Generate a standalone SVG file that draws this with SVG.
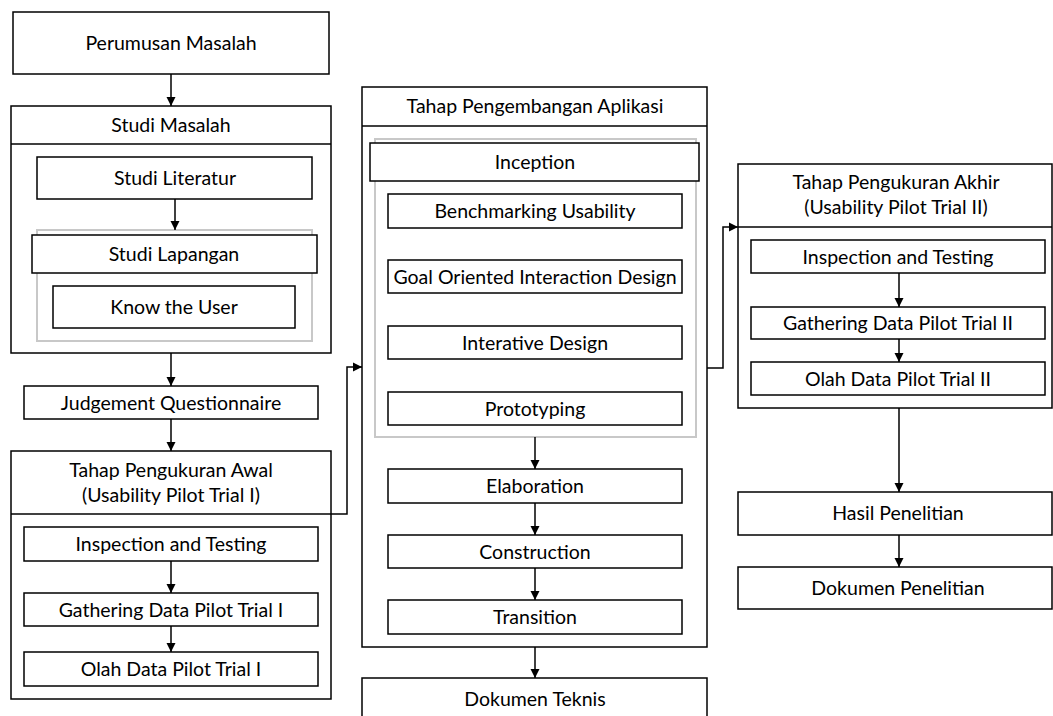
<svg xmlns="http://www.w3.org/2000/svg" width="1053" height="716" viewBox="0 0 1053 716">
<style>
.b{fill:#fff;stroke:#000;stroke-width:1.5}
.g{fill:none;stroke:#c8c8c8;stroke-width:2}
.t{font-family:Lato,"Open Sans",sans-serif;font-size:19.5px;fill:#000;text-anchor:middle}
.c{fill:none;stroke:#000;stroke-width:1.5}
</style>
<defs>
<marker id="ah" markerWidth="10" markerHeight="10" refX="9" refY="5" orient="auto" markerUnits="userSpaceOnUse">
<path d="M0,0.5 L9,5 L0,9.5 Z" fill="#000"/>
</marker>
</defs>
<rect width="1053" height="716" fill="#fff"/>

<g id="perumusan">
<rect class="b" x="13" y="12" width="316" height="62"/>
<text class="t" x="171" y="50">Perumusan Masalah</text>
</g>

<g id="studi-masalah">
<rect class="b" x="11" y="106" width="320" height="247"/>
<line class="c" x1="11" y1="144" x2="331" y2="144"/>
<text class="t" x="171" y="132">Studi Masalah</text>
</g>
<g id="studi-literatur">
<rect class="b" x="37" y="157" width="275" height="42"/>
<text class="t" x="175" y="185">Studi Literatur</text>
</g>
<g id="studi-lapangan-group">
<rect class="g" x="37" y="230" width="275" height="111"/>
</g>
<g id="studi-lapangan">
<rect class="b" x="32" y="235" width="285" height="38"/>
<text class="t" x="174" y="261">Studi Lapangan</text>
</g>
<g id="know-user">
<rect class="b" x="53" y="286" width="242" height="42"/>
<text class="t" x="174" y="314">Know the User</text>
</g>

<g id="judgement">
<rect class="b" x="24" y="386" width="294" height="33"/>
<text class="t" x="171" y="410">Judgement Questionnaire</text>
</g>

<g id="tahap-awal">
<rect class="b" x="11" y="451" width="320" height="248"/>
<line class="c" x1="11" y1="514" x2="331" y2="514"/>
<text class="t" x="171" y="477">Tahap Pengukuran Awal</text>
<text class="t" x="171" y="502">(Usability Pilot Trial I)</text>
</g>
<g id="inspection-1">
<rect class="b" x="24" y="527" width="294" height="34"/>
<text class="t" x="171" y="551">Inspection and Testing</text>
</g>
<g id="gathering-1">
<rect class="b" x="24" y="593" width="294" height="33"/>
<text class="t" x="171" y="617">Gathering Data Pilot Trial I</text>
</g>
<g id="olah-1">
<rect class="b" x="24" y="652" width="294" height="34"/>
<text class="t" x="171" y="676">Olah Data Pilot Trial I</text>
</g>

<g id="pengembangan">
<rect class="b" x="362" y="87" width="345" height="560"/>
<line class="c" x1="362" y1="126" x2="707" y2="126"/>
<text class="t" x="535" y="113">Tahap Pengembangan Aplikasi</text>
</g>
<g id="inception-group">
<rect class="g" x="375" y="139" width="321" height="298"/>
</g>
<g id="inception">
<rect class="b" x="370" y="143" width="329" height="38"/>
<text class="t" x="535" y="169">Inception</text>
</g>
<g id="benchmarking">
<rect class="b" x="388" y="194" width="294" height="34"/>
<text class="t" x="535" y="218">Benchmarking Usability</text>
</g>
<g id="goal">
<rect class="b" x="388" y="260" width="294" height="33"/>
<text class="t" x="535" y="284">Goal Oriented Interaction Design</text>
</g>
<g id="interative">
<rect class="b" x="388" y="326" width="294" height="33"/>
<text class="t" x="535" y="350">Interative Design</text>
</g>
<g id="prototyping">
<rect class="b" x="388" y="392" width="294" height="33"/>
<text class="t" x="535" y="416">Prototyping</text>
</g>
<g id="elaboration">
<rect class="b" x="388" y="469" width="294" height="34"/>
<text class="t" x="535" y="493">Elaboration</text>
</g>
<g id="construction">
<rect class="b" x="388" y="535" width="294" height="33"/>
<text class="t" x="535" y="559">Construction</text>
</g>
<g id="transition">
<rect class="b" x="388" y="600" width="294" height="34"/>
<text class="t" x="535" y="624">Transition</text>
</g>
<g id="dokumen-teknis">
<rect class="b" x="362" y="678" width="345" height="50"/>
<text class="t" x="535" y="706">Dokumen Teknis</text>
</g>

<g id="tahap-akhir">
<rect class="b" x="738" y="164" width="314" height="244"/>
<line class="c" x1="738" y1="227" x2="1052" y2="227"/>
<text class="t" x="896" y="189">Tahap Pengukuran Akhir</text>
<text class="t" x="896" y="214">(Usability Pilot Trial II)</text>
</g>
<g id="inspection-2">
<rect class="b" x="751" y="240" width="294" height="33"/>
<text class="t" x="898" y="264">Inspection and Testing</text>
</g>
<g id="gathering-2">
<rect class="b" x="751" y="307" width="294" height="32"/>
<text class="t" x="898" y="330">Gathering Data Pilot Trial II</text>
</g>
<g id="olah-2">
<rect class="b" x="751" y="362" width="294" height="33"/>
<text class="t" x="898" y="386">Olah Data Pilot Trial II</text>
</g>
<g id="hasil">
<rect class="b" x="738" y="492" width="314" height="43"/>
<text class="t" x="898" y="520">Hasil Penelitian</text>
</g>
<g id="dokumen-penelitian">
<rect class="b" x="738" y="567" width="314" height="42"/>
<text class="t" x="898" y="595">Dokumen Penelitian</text>
</g>

<g id="connectors">
<line class="c" x1="171" y1="74" x2="171" y2="106" marker-end="url(#ah)"/>
<line class="c" x1="175" y1="199" x2="175" y2="230" marker-end="url(#ah)"/>
<line class="c" x1="171" y1="353" x2="171" y2="386" marker-end="url(#ah)"/>
<line class="c" x1="171" y1="419" x2="171" y2="451" marker-end="url(#ah)"/>
<line class="c" x1="171" y1="561" x2="171" y2="593" marker-end="url(#ah)"/>
<line class="c" x1="171" y1="626" x2="171" y2="652" marker-end="url(#ah)"/>
<path class="c" d="M331,514 H347 V367 H362" marker-end="url(#ah)"/>
<line class="c" x1="535" y1="437" x2="535" y2="469" marker-end="url(#ah)"/>
<line class="c" x1="535" y1="503" x2="535" y2="535" marker-end="url(#ah)"/>
<line class="c" x1="535" y1="568" x2="535" y2="600" marker-end="url(#ah)"/>
<line class="c" x1="535" y1="647" x2="535" y2="678" marker-end="url(#ah)"/>
<path class="c" d="M707,368 H723 V227 H738" marker-end="url(#ah)"/>
<line class="c" x1="899" y1="273" x2="899" y2="307" marker-end="url(#ah)"/>
<line class="c" x1="899" y1="339" x2="899" y2="362" marker-end="url(#ah)"/>
<line class="c" x1="899" y1="408" x2="899" y2="492" marker-end="url(#ah)"/>
<line class="c" x1="899" y1="535" x2="899" y2="567" marker-end="url(#ah)"/>
</g>
</svg>
